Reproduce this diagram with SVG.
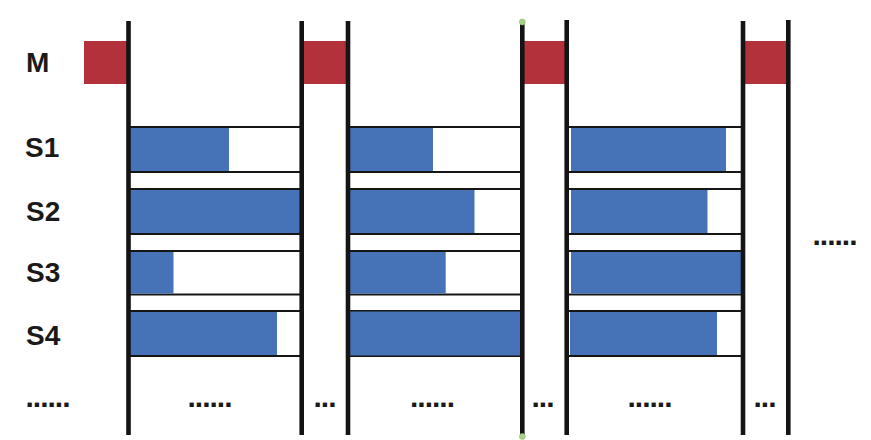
<svg xmlns="http://www.w3.org/2000/svg" width="871" height="440" viewBox="0 0 871 440">
<style>
.lbl{font-family:"Liberation Sans",Arial,sans-serif;font-weight:bold;font-size:28px;fill:#1a1a1a}
.dots{font-family:"Liberation Sans",Arial,sans-serif;font-weight:bold;font-size:30px;letter-spacing:-1px;fill:#1a1a1a}
.box{fill:#ffffff;stroke:#161616;stroke-width:2}
.bar{fill:#4672b8}
.m{fill:#b2313a}
.vl{stroke:#141414;stroke-width:4.6}
.pin{fill:#a6d487;stroke:#8fbf6f;stroke-width:0.6}
</style>
<rect width="871" height="440" fill="#ffffff"/>
<g id="labels">
<text class="lbl" x="26" y="72">M</text>
<text class="lbl" x="25" y="157">S1</text>
<text class="lbl" x="26" y="221">S2</text>
<text class="lbl" x="26" y="282">S3</text>
<text class="lbl" x="26" y="345">S4</text>
</g>
<g id="master">
<rect class="m" x="84" y="41" width="45" height="43"/>
<rect class="m" x="303" y="41" width="45" height="43"/>
<rect class="m" x="524" y="41" width="43" height="43"/>
<rect class="m" x="745" y="41" width="43" height="43"/>
</g>
<g id="col1">
<rect class="box" x="129" y="127" width="173" height="45"/>
<rect class="bar" x="129" y="128" width="100" height="43"/>
<rect class="box" x="129" y="189" width="173" height="45"/>
<rect class="bar" x="129" y="190" width="173" height="43"/>
<rect class="box" x="129" y="251" width="173" height="43.5"/>
<rect class="bar" x="129" y="252" width="44.5" height="41.5"/>
<rect class="box" x="129" y="311" width="173" height="45"/>
<rect class="bar" x="129" y="312" width="148" height="43"/>
</g>
<g id="col2">
<rect class="box" x="348" y="127" width="174" height="45"/>
<rect class="bar" x="348" y="128" width="85" height="43"/>
<rect class="box" x="348" y="189" width="174" height="45"/>
<rect class="bar" x="348" y="190" width="126.5" height="43"/>
<rect class="box" x="348" y="251" width="174" height="43.5"/>
<rect class="bar" x="348" y="252" width="97.7" height="41.5"/>
<rect class="box" x="348" y="311" width="174" height="45"/>
<rect class="bar" x="348" y="311.5" width="172.5" height="44"/>
</g>
<g id="col3">
<rect class="box" x="567" y="127" width="176" height="45"/>
<rect class="bar" x="571" y="128" width="155" height="43"/>
<rect class="box" x="567" y="189" width="176" height="45"/>
<rect class="bar" x="571" y="190" width="136.5" height="43"/>
<rect class="box" x="567" y="251" width="176" height="43.5"/>
<rect class="bar" x="571" y="252" width="171" height="41.5"/>
<rect class="box" x="567" y="311" width="176" height="45"/>
<rect class="bar" x="570" y="312" width="147" height="43"/>
</g>
<g id="connectors">
<line class="vl" x1="128.5" y1="21" x2="128.5" y2="435"/>
<line class="vl" x1="301.7" y1="21" x2="301.7" y2="435"/>
<line class="vl" x1="348" y1="21" x2="348" y2="435"/>
<line class="vl" x1="522.3" y1="21" x2="522.3" y2="435"/>
<line class="vl" x1="566.7" y1="20" x2="566.7" y2="435"/>
<line class="vl" x1="743" y1="21" x2="743" y2="435"/>
<line class="vl" x1="788.3" y1="20" x2="788.3" y2="435"/>
<circle class="pin" cx="522.3" cy="22" r="3"/>
<circle class="pin" cx="522.3" cy="436.5" r="3"/>
</g>
<g id="ellipses">
<text class="dots" x="25.5" y="406.5">......</text>
<text class="dots" x="187.5" y="406.5">......</text>
<text class="dots" x="313.5" y="406.5">...</text>
<text class="dots" x="410" y="406.5">......</text>
<text class="dots" x="531.5" y="406.5">...</text>
<text class="dots" x="627.5" y="406.5">......</text>
<text class="dots" x="753.5" y="406.5">...</text>
<text class="dots" x="812.5" y="244.5">......</text>
</g>
</svg>
